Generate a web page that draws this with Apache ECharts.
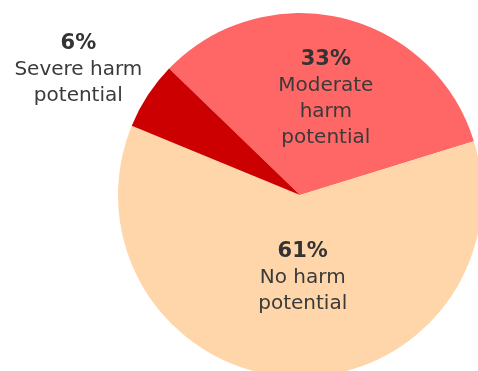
<!DOCTYPE html>
<html>
<head>
<meta charset="utf-8">
<script src="https://cdn.jsdelivr.net/npm/echarts@6/dist/echarts.min.js"></script>
<style>html,body{margin:0;padding:0;background:#fff;}#c{width:478px;height:371px;}</style>
</head>
<body>
<div id="c"></div>
<script>
var categories = ['Moderate harm potential', 'No harm potential', 'Severe harm potential'];
var labelLines = [['Moderate', 'harm', 'potential'], ['No harm', 'potential'], ['Severe harm', 'potential']];
var values = [33, 61, 6];
var colors = ['#FF6666', '#FFD5AA', '#CC0000'];
var offsets = [[4, -5], [7, -11], [-143, -74]];

var data = categories.map(function (name, i) {
  return {
    name: name,
    value: values[i],
    itemStyle: { color: colors[i] },
    label: { offset: offsets[i] }
  };
});

var chart = echarts.init(document.getElementById('c'));
chart.setOption({
  animation: false,
  series: [{
    type: 'pie',
    center: [300, 195],
    radius: 182,
    startAngle: 136,
    clockwise: true,
    avoidLabelOverlap: false,
    itemStyle: { borderWidth: 0 },
    labelLine: { show: false },
    label: {
      show: true,
      position: 'inside',
      fontFamily: 'DejaVu Sans',
      fontSize: 20,
      lineHeight: 26,
      color: '#3a3a3a',
      align: 'center',
      formatter: function (p) {
        return '{b|' + p.value + '%}\n' + labelLines[p.dataIndex].join('\n');
      },
      rich: {
        b: { fontWeight: 'bold', fontSize: 21, lineHeight: 26, color: '#333', fontFamily: 'DejaVu Sans' }
      }
    },
    data: data
  }]
});
</script>
</body>
</html>
